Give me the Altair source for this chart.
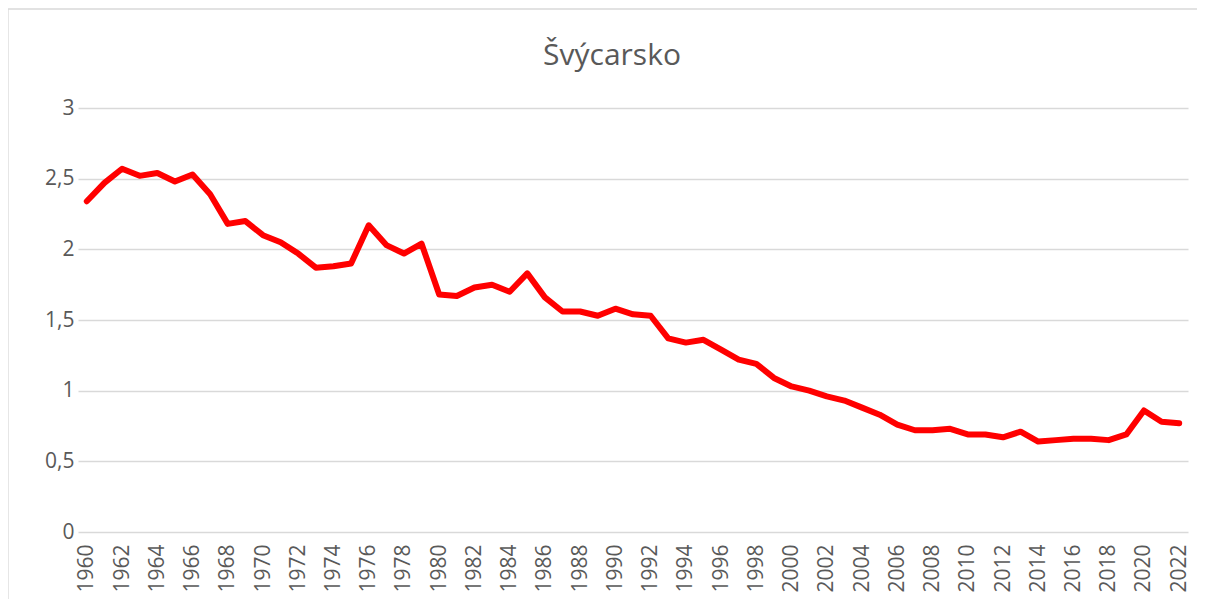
import altair as alt
import pandas as pd

years = list(range(1960, 2023))
values = [
    2.34, 2.47, 2.57, 2.52, 2.54, 2.48, 2.53, 2.39, 2.18, 2.20,
    2.10, 2.05, 1.97, 1.87, 1.88, 1.90, 2.17, 2.03, 1.97, 2.04,
    1.68, 1.67, 1.73, 1.75, 1.70, 1.83, 1.66, 1.56, 1.56, 1.53,
    1.58, 1.54, 1.53, 1.37, 1.34, 1.36, 1.29, 1.22, 1.19, 1.09,
    1.03, 1.00, 0.96, 0.93, 0.88, 0.83, 0.76, 0.72, 0.72, 0.73,
    0.69, 0.69, 0.67, 0.71, 0.64, 0.65, 0.66, 0.66, 0.65, 0.69,
    0.86, 0.78, 0.77,
]
tick_years = [y for y in years if y % 2 == 0]
y_ticks = [0, 0.5, 1, 1.5, 2, 2.5, 3]
title_text = "Švýcarsko"

df = pd.DataFrame({"year": years, "value": values})

FONT = "Open Sans"
GRAY = "#595959"
BORDER = "#d9d9d9"

line = alt.Chart(df).mark_line(color="#FF0000", strokeWidth=6, strokeJoin="round", strokeCap="round").encode(
    x=alt.X(
        "year:O",
        title=None,
        axis=alt.Axis(
            values=tick_years,
            labelAngle=-90,
            labelFont=FONT,
            labelFontSize=21,
            labelColor=GRAY,
            labelPadding=12,
            ticks=False,
            domain=False,
            grid=False,
        ),
        scale=alt.Scale(type="point", padding=0.5),
    ),
    y=alt.Y(
        "value:Q",
        title=None,
        scale=alt.Scale(domain=[0, 3], nice=False, zero=True),
        axis=alt.Axis(
            values=y_ticks,
            labelExpr="replace(toString(datum.value), '.', ',')",
            labelFont=FONT,
            labelFontSize=21,
            labelColor=GRAY,
            labelPadding=4,
            ticks=False,
            domain=False,
            grid=True,
            gridColor=BORDER,
            gridWidth=1.3,
        ),
    ),
)

one = pd.DataFrame({"a": [0]})
top_border = alt.Chart(one).mark_rule(color=BORDER, strokeWidth=1.3).encode(
    x=alt.value(-70), x2=alt.value(1130), y=alt.value(-99)
)
left_border = alt.Chart(one).mark_rule(color=BORDER, strokeWidth=1.3).encode(
    x=alt.value(-70), y=alt.value(-99), y2=alt.value(600)
)
title = alt.Chart(one).mark_text(
    text=title_text, font=FONT, fontSize=30, color=GRAY, align="center", baseline="alphabetic"
).encode(x=alt.value(534), y=alt.value(-43))

chart = alt.layer(top_border, left_border, title, line).properties(
    width=1110,
    height=424,
    padding={"left": 70, "top": 100, "right": 9, "bottom": 67},
    autosize=alt.AutoSizeParams(type="none"),
).configure_view(stroke=None)

chart.save("out.html", embed_options={"renderer": "svg", "actions": False})
